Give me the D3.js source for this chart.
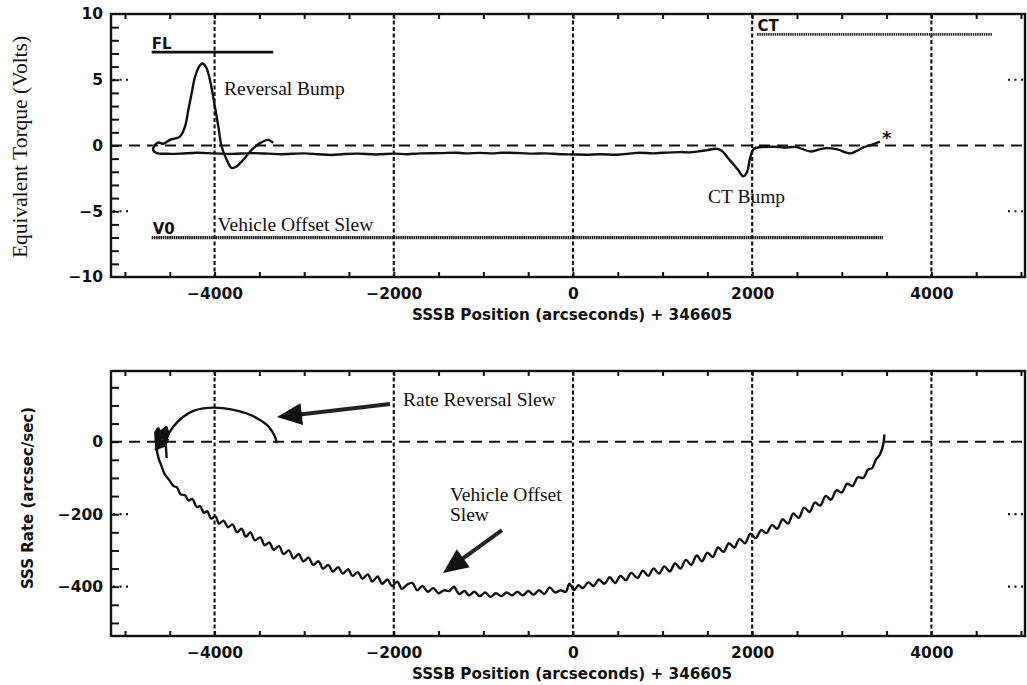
<!DOCTYPE html>
<html><head><meta charset="utf-8">
<script src="https://cdn.jsdelivr.net/npm/d3@7"></script>
<style>body{margin:0;background:#fff}svg{display:block}</style>
</head><body>
<svg id="c" width="1027" height="685"></svg>
<script>
// ---------- tick values / labels ----------
const xMajorTicks = [-4000, -2000, 0, 2000, 4000];
const xTickLabels = ["\u22124000", "\u22122000", "0", "2000", "4000"];
const xMinorTicks = [-5000,-4500,-4000,-3500,-3000,-2500,-2000,-1500,-1000,-500,0,500,1000,1500,2000,2500,3000,3500,4000,4500,5000];
const xTitle = "SSSB Position (arcseconds) + 346605";

const topYTicks = [10, 5, 0, -5, -10];
const topYLabels = ["10", "5", "0", "\u22125", "\u221210"];
const topYMinor = [9,8,7,6,5,4,3,2,1,0,-1,-2,-3,-4,-5,-6,-7,-8,-9];
const topYDotted = [5, -5];
const topYTitle = "Equivalent Torque (Volts)";

const botYTicks = [0, -200, -400];
const botYLabels = ["0", "\u2212200", "\u2212400"];
const botYMinor = [150,100,50,0,-50,-100,-150,-200,-250,-300,-350,-400,-450,-500];
const botYDotted = [-200, -400];
const botYTitle = "SSS Rate (arcsec/sec)";

// ---------- top panel series ----------
const torqueX = [-3345,-3400,-3493,-3586,-3679,-3754,-3809,-3865,-3921,-3958,-4003,-4044,-4088,-4133,-4163,-4219,-4256,-4293,-4330,-4386,-4498,-4572,-4628,-4676,-4684,-4646,-4535,-4386,-4200,-4000,-3800,-3600,-3400,-3256,-3000,-2850,-2698,-2550,-2400,-2200,-2000,-1850,-1700,-1484,-1300,-1200,-1038,-900,-800,-592,-450,-300,-150,0,150,301,500,650,748,900,1000,1194,1300,1400,1500,1596,1660,1730,1842,1900,1944,1975,2020,2109,2250,2355,2496,2645,2750,2831,2950,3092,3170,3240,3330,3426];
const torqueY = [0.2,0.43,0.18,-0.33,-1.08,-1.59,-1.71,-1.08,-0.08,1.44,3.2,4.73,5.86,6.24,6.1,5.2,3.97,2.7,1.44,0.68,0.43,0.13,0.23,-0.08,-0.38,-0.58,-0.63,-0.62,-0.55,-0.6,-0.64,-0.58,-0.62,-0.66,-0.6,-0.66,-0.72,-0.65,-0.62,-0.68,-0.62,-0.66,-0.6,-0.58,-0.55,-0.6,-0.56,-0.6,-0.55,-0.58,-0.62,-0.6,-0.66,-0.68,-0.7,-0.66,-0.7,-0.6,-0.55,-0.6,-0.55,-0.5,-0.52,-0.45,-0.35,-0.25,-0.4,-0.95,-1.85,-2.35,-2.0,-1.0,-0.25,-0.12,-0.1,-0.15,-0.12,-0.45,-0.3,-0.2,-0.3,-0.6,-0.4,-0.15,0.05,0.3];

const flX = [-4702, -3345], flY = [7.1, 7.1];
const v0X = [-4702, 3460], v0Y = [-7.0, -7.0];
const ctX = [2056, 4682], ctY = [8.45, 8.45];

// ---------- bottom panel series ----------
const blobPoints = [[-4650,0],[-4655,25],[-4630,35],[-4600,20],[-4580,30],[-4540,38],[-4520,20],[-4545,5],[-4590,15],[-4630,-5],[-4650,-20],[-4620,-15],[-4560,-10],[-4530,5],[-4600,0],[-4640,10]];
const hookPoints = [[-4545,-5],[-4540,-25],[-4535,-45]];
const reversalPoints = [[-4520,20],[-4498,28],[-4461,41],[-4400,58],[-4349,69],[-4237,85],[-4126,92],[-3996,94],[-3828,90],[-3642,78],[-3493,60],[-3420,47],[-3382,37],[-3326,14],[-3307,-4]];
const slewPoints = [[-4648,5],[-4652,-10],[-4640,-30],[-4620,-50],[-4600,-62],[-4560,-88],[-4500,-108],[-4460,-122],[-4420,-126],[-4380,-145],[-4330,-148],[-4290,-162],[-4250,-158],[-4200,-180],[-4160,-178],[-4120,-196],[-4080,-192],[-4040,-212],[-3990,-206],[-3950,-226],[-3900,-218],[-3850,-236],[-3800,-228],[-3750,-250],[-3700,-240],[-3650,-262],[-3600,-250],[-3550,-272],[-3490,-264],[-3440,-286],[-3390,-278],[-3340,-298],[-3280,-288],[-3230,-310],[-3170,-300],[-3120,-322],[-3060,-310],[-3010,-330],[-2950,-320],[-2900,-340],[-2840,-330],[-2790,-350],[-2730,-340],[-2680,-358],[-2620,-346],[-2570,-364],[-2510,-352],[-2460,-370],[-2400,-360],[-2350,-378],[-2290,-366],[-2240,-386],[-2180,-372],[-2130,-392],[-2070,-380],[-2020,-398],[-1960,-386],[-1910,-406],[-1850,-394],[-1790,-390],[-1740,-410],[-1680,-398],[-1620,-414],[-1560,-404],[-1500,-418],[-1440,-410],[-1380,-412],[-1330,-400],[-1270,-420],[-1210,-412],[-1160,-424],[-1100,-414],[-1040,-426],[-980,-416],[-920,-428],[-860,-418],[-800,-426],[-740,-416],[-680,-424],[-620,-414],[-560,-424],[-500,-412],[-440,-422],[-380,-410],[-320,-420],[-260,-402],[-200,-416],[-140,-410],[-80,-414],[-40,-392],[10,-410],[60,-396],[110,-404],[170,-388],[230,-398],[290,-380],[350,-392],[410,-374],[470,-390],[530,-370],[590,-382],[650,-362],[720,-376],[780,-356],[840,-370],[900,-350],[960,-364],[1020,-344],[1080,-358],[1140,-336],[1200,-350],[1260,-326],[1320,-340],[1380,-314],[1440,-330],[1500,-306],[1560,-318],[1620,-292],[1680,-304],[1740,-280],[1800,-292],[1860,-268],[1920,-280],[1980,-254],[2040,-266],[2100,-244],[2160,-252],[2220,-230],[2280,-240],[2340,-214],[2400,-226],[2460,-198],[2520,-210],[2580,-182],[2640,-194],[2700,-168],[2760,-176],[2820,-150],[2880,-160],[2940,-134],[3000,-140],[3060,-116],[3120,-122],[3180,-98],[3240,-100],[3290,-78],[3340,-72],[3380,-50],[3420,-38],[3450,-20],[3468,0],[3476,20]];

// ---------- annotations (data coordinates) ----------
const topNotes = [
  {text:"Reversal Bump", x:-3895, y:3.83, serif:true},
  {text:"Vehicle Offset Slew", x:-3966, y:-6.5, serif:true},
  {text:"CT Bump", x:1507, y:-4.36, serif:true},
  {text:"FL", x:-4700, y:7.35, serif:false},
  {text:"V0", x:-4690, y:-6.75, serif:false},
  {text:"CT", x:2060, y:8.7, serif:false},
  {text:"*", x:3450, y:0.15, serif:false}
];
const botNotes = [
  {text:"Rate Reversal Slew", x:-1897, y:98},
  {text:"Vehicle Offset", x:-1373, y:-164},
  {text:"Slew", x:-1373, y:-220}
];
const arrows = [
  {from:[-2042,104], to:[-3304,68]},
  {from:[-792,-244], to:[-1451,-362]}
];

// ---------- layout ----------
const svg = d3.select("#c");
const L = 111, R = 1025;
const x = d3.scaleLinear().domain([-5156, 5045]).range([L, R]);
const yT = d3.scaleLinear().domain([-10, 10]).range([277, 14]);
const yB = d3.scaleLinear().domain([-536, 195]).range([636, 371]);
const SANS = "'DejaVu Sans', sans-serif";
const SERIF = "'Liberation Serif', 'Times New Roman', serif";
const INK = "#111";

function panel(y, yTicks, yLabels, yMinor, yDotted) {
  const g = svg.append("g");
  const [yb, yt] = y.range();
  g.selectAll(".vg").data(xMajorTicks).join("line")
    .attr("x1", d => x(d)).attr("x2", d => x(d)).attr("y1", yt).attr("y2", yb)
    .attr("stroke", INK).attr("stroke-width", 2.1).attr("stroke-dasharray", "4,2.5");
  g.append("line").attr("x1", L).attr("x2", R).attr("y1", y(0)).attr("y2", y(0))
    .attr("stroke", INK).attr("stroke-width", 1.9).attr("stroke-dasharray", "11,7");
  g.append("g").attr("transform", `translate(0,${yb})`)
    .call(d3.axisBottom(x).tickValues(xMinorTicks).tickSize(-5).tickFormat(""))
    .call(a => a.select(".domain").remove())
    .call(a => a.selectAll("line").attr("stroke", INK).attr("stroke-width", 2));
  g.append("g").attr("transform", `translate(0,${yt})`)
    .call(d3.axisTop(x).tickValues(xMinorTicks).tickSize(-5).tickFormat(""))
    .call(a => a.select(".domain").remove())
    .call(a => a.selectAll("line").attr("stroke", INK).attr("stroke-width", 2));
  g.append("g").attr("transform", `translate(${L},0)`)
    .call(d3.axisLeft(y).tickValues(yMinor).tickSize(-8).tickFormat(""))
    .call(a => a.select(".domain").remove())
    .call(a => a.selectAll("line").attr("stroke", INK).attr("stroke-width", 2));
  g.selectAll(".dl").data(yDotted).join("line")
    .attr("x1", L + 2).attr("x2", L + 18).attr("y1", d => y(d)).attr("y2", d => y(d))
    .attr("stroke", INK).attr("stroke-width", 2.2).attr("stroke-dasharray", "2,4.5");
  g.selectAll(".dr").data(yDotted).join("line")
    .attr("x1", R - 2).attr("x2", R - 18).attr("y1", d => y(d)).attr("y2", d => y(d))
    .attr("stroke", INK).attr("stroke-width", 2.2).attr("stroke-dasharray", "2,4.5");
  g.append("rect").attr("x", L).attr("y", yt).attr("width", R - L).attr("height", yb - yt)
    .attr("fill", "none").attr("stroke", INK).attr("stroke-width", 2.4);
  g.append("g").attr("transform", `translate(0,${yb})`)
    .call(d3.axisBottom(x).tickValues(xMajorTicks).tickSize(0).tickPadding(11)
      .tickFormat((d, i) => xTickLabels[i]))
    .call(a => a.select(".domain").remove())
    .call(a => a.selectAll("text").attr("font-family", SANS).attr("font-weight", "bold")
      .attr("font-size", 15.5).attr("fill", INK));
  g.append("g").attr("transform", `translate(${L},0)`)
    .call(d3.axisLeft(y).tickValues(yTicks).tickSize(0).tickPadding(8)
      .tickFormat((d, i) => yLabels[i]))
    .call(a => a.select(".domain").remove())
    .call(a => a.selectAll("text").attr("font-family", SANS).attr("font-weight", "bold")
      .attr("font-size", 15.5).attr("fill", INK));
  g.append("text").attr("x", 572).attr("y", yb + 43).attr("text-anchor", "middle")
    .attr("font-family", SANS).attr("font-weight", "bold").attr("font-size", 15.2)
    .attr("fill", INK).text(xTitle);
  return g;
}

const gT = panel(yT, topYTicks, topYLabels, topYMinor, topYDotted);
const gB = panel(yB, botYTicks, botYLabels, botYMinor, botYDotted);

svg.append("text").attr("transform", "translate(27,147) rotate(-90)").attr("text-anchor", "middle")
  .attr("font-family", SERIF).attr("font-size", 21.5).attr("fill", INK).text(topYTitle);
svg.append("text").attr("transform", "translate(33,498) rotate(-90)").attr("text-anchor", "middle")
  .attr("font-family", SANS).attr("font-weight", "bold").attr("font-size", 15).attr("fill", INK).text(botYTitle);

// ---------- top panel marks ----------
const lineT = d3.line().x(d => x(d[0])).y(d => yT(d[1]));
const zip = (a, b) => a.map((v, i) => [v, b[i]]);
gT.append("path").datum(zip(flX, flY)).attr("d", lineT)
  .attr("fill", "none").attr("stroke", INK).attr("stroke-width", 2.6);
gT.append("path").datum(zip(v0X, v0Y)).attr("d", lineT)
  .attr("fill", "none").attr("stroke", "#1a1a1a").attr("stroke-width", 3.2).attr("stroke-dasharray", "1.6,0.6");
gT.append("path").datum(zip(ctX, ctY)).attr("d", lineT)
  .attr("fill", "none").attr("stroke", "#2a2a2a").attr("stroke-width", 2.8).attr("stroke-dasharray", "1.5,0.7");
gT.append("path").datum(zip(torqueX, torqueY))
  .attr("d", d3.line().x(d => x(d[0])).y(d => yT(d[1])).curve(d3.curveCatmullRom))
  .attr("fill", "none").attr("stroke", INK).attr("stroke-width", 2.4).attr("stroke-linejoin", "round");
topNotes.forEach(n => {
  gT.append("text").attr("x", x(n.x)).attr("y", yT(n.y))
    .attr("font-family", n.serif ? SERIF : SANS).attr("font-size", n.serif ? 19.5 : (n.text === "*" ? 18 : 15))
    .attr("font-weight", n.serif ? "normal" : "bold")
    .attr("fill", INK).text(n.text);
});

// ---------- bottom panel marks ----------
const lineB = d3.line().x(d => x(d[0])).y(d => yB(d[1]));
gB.append("path").datum(slewPoints).attr("d", d3.line().x(d => x(d[0])).y(d => yB(d[1])).curve(d3.curveCatmullRom))
  .attr("fill", "none").attr("stroke", INK).attr("stroke-width", 2.4).attr("stroke-linejoin", "round");
gB.append("path").datum(reversalPoints).attr("d", d3.line().x(d => x(d[0])).y(d => yB(d[1])).curve(d3.curveCatmullRom))
  .attr("fill", "none").attr("stroke", INK).attr("stroke-width", 2.4);
gB.append("path").datum(blobPoints).attr("d", lineB)
  .attr("fill", INK).attr("stroke", INK).attr("stroke-width", 3.5).attr("stroke-linejoin", "round");
gB.append("path").datum(hookPoints).attr("d", lineB)
  .attr("fill", "none").attr("stroke", INK).attr("stroke-width", 2.4);
botNotes.forEach(n => {
  gB.append("text").attr("x", x(n.x)).attr("y", yB(n.y))
    .attr("font-family", SERIF).attr("font-size", 19.5).attr("fill", INK).text(n.text);
});
arrows.forEach(a => {
  const x0 = x(a.from[0]), y0 = yB(a.from[1]), x1 = x(a.to[0]), y1 = yB(a.to[1]);
  const dx = x1 - x0, dy = y1 - y0, len = Math.hypot(dx, dy), ux = dx / len, uy = dy / len;
  const hl = 25, hw = 11;
  const bx = x1 - ux * hl, by = y1 - uy * hl;
  gB.append("line").attr("x1", x0).attr("y1", y0).attr("x2", bx + ux * 2).attr("y2", by + uy * 2)
    .attr("stroke", "#222").attr("stroke-width", 4);
  gB.append("path").attr("d", `M${x1},${y1}L${bx - uy * hw},${by + ux * hw}L${bx + uy * hw},${by - ux * hw}Z`)
    .attr("fill", INK);
});
</script>
</body></html>
